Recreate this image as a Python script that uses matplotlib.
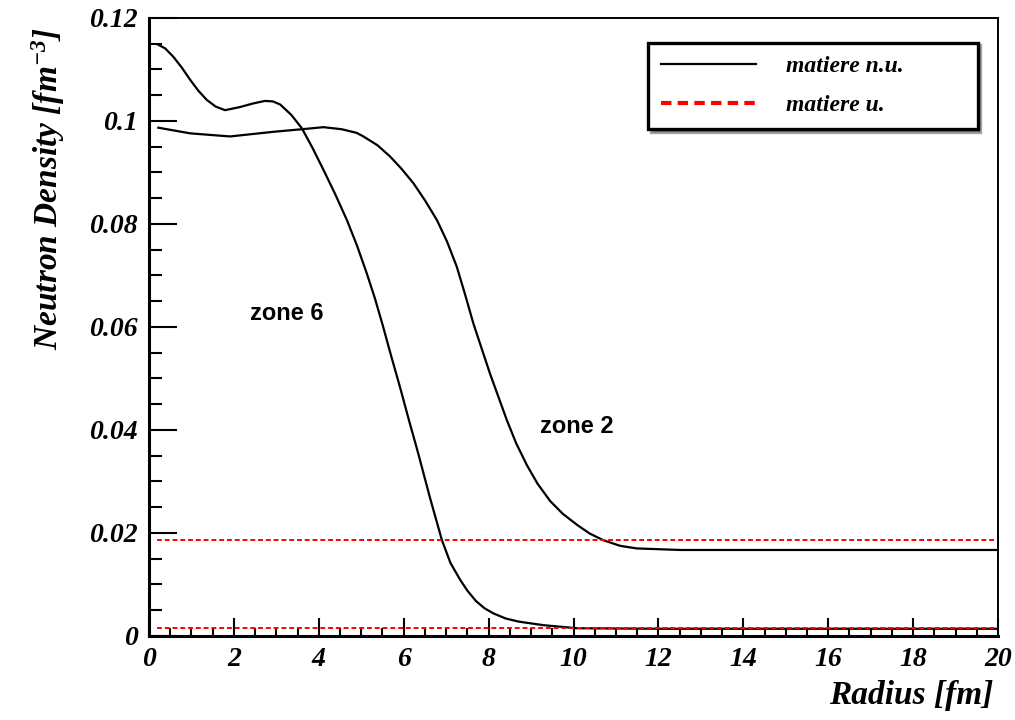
import numpy as np
import matplotlib
matplotlib.use("Agg")
import matplotlib.pyplot as plt
from matplotlib.ticker import MultipleLocator, FuncFormatter

plt.rcParams['font.family'] = ['Liberation Serif', 'DejaVu Serif']
plt.rcParams['mathtext.fontset'] = 'custom'
plt.rcParams['mathtext.rm'] = 'Liberation Serif:italic:bold'
plt.rcParams['mathtext.it'] = 'Liberation Serif:italic:bold'

# zone 6 density profile
r_zone6 = [0.22, 0.38, 0.57, 0.77, 0.97, 1.16, 1.36, 1.57, 1.79, 2.14, 2.45,
           2.73, 2.92, 3.09, 3.35, 3.60, 3.85, 4.11, 4.38, 4.66, 4.90, 5.13,
           5.32, 5.50, 5.70, 5.91, 6.12, 6.34, 6.62, 6.90, 7.10, 7.33, 7.50,
           7.70, 7.90, 8.11, 8.40, 8.70, 9.29, 10.08, 12.0, 20.0]
rho_zone6 = [0.1148, 0.1141, 0.1125, 0.1104, 0.1080, 0.1059, 0.1041, 0.1028,
             0.1021, 0.1027, 0.1034, 0.1039, 0.1038, 0.1032, 0.1012, 0.0986,
             0.0948, 0.0905, 0.0859, 0.0808, 0.0758, 0.0704, 0.0656, 0.0605,
             0.0545, 0.0484, 0.0420, 0.0355, 0.0268, 0.0186, 0.0142, 0.0109,
             0.0088, 0.0068, 0.0054, 0.0044, 0.0034, 0.0028, 0.0021, 0.0015,
             0.0014, 0.0014]

# zone 2 density profile
r_zone2 = [0.22, 0.97, 1.91, 2.93, 3.60, 4.11, 4.54, 4.89, 5.05, 5.38, 5.68,
           5.95, 6.23, 6.50, 6.78, 7.02, 7.25, 7.45, 7.64, 8.03, 8.43, 8.65,
           8.90, 9.15, 9.45, 9.75, 10.08, 10.38, 10.70, 11.10, 11.49, 12.51,
           20.0]
rho_zone2 = [0.0987, 0.0976, 0.0970, 0.0979, 0.0984, 0.0988, 0.0984, 0.0977,
             0.0970, 0.0953, 0.0931, 0.0907, 0.0879, 0.0846, 0.0808, 0.0766,
             0.0717, 0.0662, 0.0607, 0.0510, 0.0419, 0.0374, 0.0332, 0.0296,
             0.0262, 0.0237, 0.0216, 0.0199, 0.0186, 0.0175, 0.0170, 0.0167,
             0.0167]

# uniform matter levels
r_unif = [0.2, 20.0]
rho_unif_zone2 = [0.0186, 0.0186]
rho_unif_zone6 = [0.00155, 0.00155]

fig = plt.figure(figsize=(10.15, 7.2), dpi=100)
ax = fig.add_axes([0.1468, 0.1167, 0.8365, 0.8583])

ax.plot(r_zone6, rho_zone6, color='black', lw=1.6, label='matiere n.u.')
ax.plot(r_zone2, rho_zone2, color='black', lw=1.6)
red_ls = (0, (2.5, 1.5))
ax.plot(r_unif, rho_unif_zone2, color='red', lw=1.4, ls=red_ls, label='matiere u.')
ax.plot(r_unif, rho_unif_zone6, color='red', lw=1.4, ls=red_ls)

ax.set_xlim(0, 20)
ax.set_ylim(0, 0.12)

ax.xaxis.set_major_locator(MultipleLocator(2))
ax.xaxis.set_minor_locator(MultipleLocator(0.5))
ax.yaxis.set_major_locator(MultipleLocator(0.02))
ax.yaxis.set_minor_locator(MultipleLocator(0.005))
fmt = FuncFormatter(lambda v, p: '%g' % round(v, 4))
ax.xaxis.set_major_formatter(fmt)
ax.yaxis.set_major_formatter(fmt)

ax.tick_params(which='both', direction='in', top=False, right=False,
               labelsize=20, width=1.5)
ax.tick_params(axis='y', which='major', length=20, pad=8)
ax.tick_params(axis='y', which='minor', length=9)
ax.tick_params(axis='x', which='major', length=13, pad=8)
ax.tick_params(axis='x', which='minor', length=6)
for lab in ax.get_xticklabels() + ax.get_yticklabels():
    lab.set_fontstyle('italic')
    lab.set_fontweight('bold')

ax.spines['left'].set_linewidth(2.2)
ax.spines['bottom'].set_linewidth(2.2)
ax.spines['top'].set_linewidth(1.4)
ax.spines['right'].set_linewidth(1.4)

ax.set_xlabel('Radius [fm]', fontsize=24, fontstyle='italic', fontweight='bold',
              ha='right')
ax.xaxis.set_label_coords(0.994, -0.072)
ax.set_ylabel(r'Neutron Density [fm$^{-3}$]', fontsize=24, fontstyle='italic',
              fontweight='bold', ha='right')
ax.yaxis.set_label_coords(-0.097, 0.985)

ax.text(2.38, 0.0627, 'zone 6', fontsize=17, fontweight='bold',
        family='Liberation Sans', ha='left', va='center')
ax.text(9.21, 0.0406, 'zone 2', fontsize=17, fontweight='bold',
        family='Liberation Sans', ha='left', va='center')

leg = ax.legend(loc='upper left', bbox_to_anchor=(0.588, 0.832, 0.388, 0.128),
                mode='expand', borderaxespad=0, fancybox=False, shadow=True,
                edgecolor='black', handlelength=4.0, handletextpad=1.3,
                labelspacing=0.75, borderpad=0.55,
                prop={'family': 'Liberation Serif', 'style': 'italic',
                      'weight': 'bold', 'size': 17})
leg.get_frame().set_linewidth(2.4)
leg.get_frame().set_alpha(1)
leg.get_lines()[1].set_linewidth(3)

fig.savefig('out.png', dpi=100)
